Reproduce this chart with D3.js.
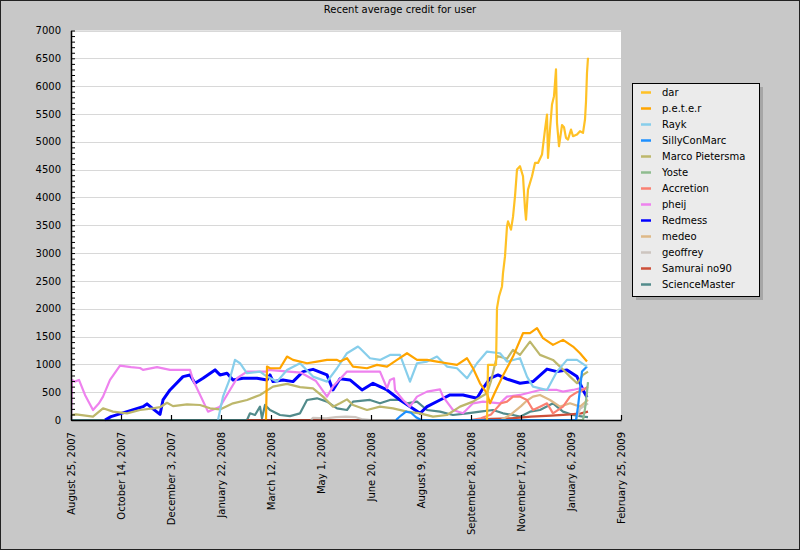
<!DOCTYPE html>
<html>
<head>
<meta charset="utf-8">
<script src="https://cdn.jsdelivr.net/npm/d3@7"></script>
<style>
  html, body { margin: 0; padding: 0; background: #c8c8c8; }
  svg { display: block; }
  text { font-family: "DejaVu Sans", sans-serif; }
</style>
</head>
<body>
<svg id="chart" width="800" height="550"></svg>
<script>
// ---------------- DATA ----------------
const chartTitle = "Recent average credit for user";
const baseDate = "2007-08-25";          // day 0 of all series
const xTickDates = ["2007-08-25","2007-10-14","2007-12-03","2008-01-22","2008-03-12","2008-05-01",
                    "2008-06-20","2008-08-09","2008-09-28","2008-11-17","2009-01-06","2009-02-25"];
const yTickValues = [0,500,1000,1500,2000,2500,3000,3500,4000,4500,5000,5500,6000,6500,7000];
const seriesNames = ["dar","p.e.t.e.r","Rayk","SillyConMarc","Marco Pietersma","Yoste","Accretion",
                     "pheij","Redmess","medeo","geoffrey","Samurai no90","ScienceMaster"];

// each series: [day offset from baseDate, recent average credit]
const dar = [[416,0],[417,990],[425,990],[426,2010],[428,2220],[431,2400],[432,2640],[434,2940],[436,3480],
  [437,3570],[440,3420],[442,3650],[444,4020],[446,4500],[449,4560],[452,4380],[454,3800],[455,3600],[457,4140],
  [461,4380],[464,4620],[467,4620],[471,4770],[472,4920],[474,5220],[476,5490],[477,4710],[479,5220],[481,5670],
  [483,5820],[485,6300],[486,5340],[488,4920],[491,5300],[493,5260],[495,5070],[497,5040],[500,5220],[502,5100],
  [506,5130],[509,5190],[512,5160],[514,5400],[515,5720],[516,6240],[517,6510]];
const peter = [[195,0],[196,960],[199,930],[209,930],[216,1140],[222,1080],[236,1020],[246,1050],[256,1080],
  [266,1080],[269,1050],[276,1110],[282,960],[296,930],[306,990],[316,960],[326,1080],[336,1200],[346,1080],
  [356,1080],[366,1050],[376,1020],[386,990],[396,1110],[402,930],[409,660],[416,480],[419,300],[424,500],
  [432,800],[442,1140],[452,1560],[459,1560],[466,1650],[472,1470],[482,1350],[492,1440],[502,1320],[509,1200],[516,1050]];
const rayk = [[147,0],[152,420],[159,750],[164,1080],[169,1020],[176,840],[189,870],[196,780],[206,690],[216,900],
  [229,1020],[242,780],[256,690],[266,930],[276,1200],[287,1320],[289,1290],[299,1110],[309,1080],[319,1170],
  [329,1170],[339,690],[346,1020],[356,1050],[366,1140],[376,960],[386,930],[396,750],[406,1020],[416,1230],
  [429,1200],[436,1050],[449,1110],[456,780],[462,600],[476,540],[486,870],[496,1080],[506,1080],[516,960]];
const sillyConMarc = [[325,0],[330,80],[335,150],[340,130],[345,50],[350,0],[505,0],[507,240],[511,870],[516,960]];
const marco = [[0,90],[5,100],[22,60],[32,210],[42,150],[56,120],[69,180],[82,210],[89,230],[96,310],[102,250],
  [116,280],[129,270],[139,210],[149,190],[162,300],[176,360],[189,450],[202,600],[216,650],[229,590],[242,570],
  [252,420],[262,240],[269,300],[276,370],[282,270],[296,180],[309,240],[322,210],[336,150],[349,120],[362,60],
  [376,90],[389,240],[402,330],[416,480],[420,700],[426,1150],[436,1100],[442,1260],[449,1170],[459,1410],
  [469,1170],[482,1080],[489,960],[499,780],[506,660],[512,810],[517,870]];
const yoste = [[505,0],[512,0],[514,200],[516,500],[517,680]];
const accretion = [[400,0],[410,30],[420,100],[425,200],[430,300],[436,330],[442,420],[449,420],[456,360],
  [462,180],[469,240],[476,300],[482,120],[492,240],[499,420],[506,500],[512,540],[517,600]];
const pheij = [[0,0],[1,720],[4,690],[8,720],[14,450],[22,180],[28,300],[32,420],[39,720],[49,977],[60,950],
  [69,935],[72,900],[86,950],[99,900],[119,900],[122,720],[137,150],[149,240],[166,750],[176,870],[196,870],
  [197,900],[230,850],[245,700],[256,420],[262,600],[276,870],[289,870],[309,870],[316,570],[319,720],[323,750],
  [324,540],[332,360],[339,240],[346,420],[356,510],[369,550],[372,420],[382,180],[392,120],[402,300],[412,330],
  [429,300],[436,420],[449,450],[469,540],[486,540],[492,510],[502,540],[509,570],[516,550]];
const redmess = [[34,0],[40,60],[56,150],[72,240],[76,290],[82,200],[89,100],[92,360],[99,540],[112,780],
  [119,810],[124,660],[132,750],[144,900],[149,810],[156,840],[162,720],[172,750],[186,750],[196,720],[199,810],
  [202,690],[212,720],[222,690],[232,870],[242,910],[256,810],[262,540],[269,740],[279,720],[291,540],[302,660],
  [316,540],[329,360],[349,120],[356,240],[369,360],[379,450],[392,450],[406,390],[412,570],[419,750],[427,810],
  [436,735],[449,660],[462,690],[476,915],[486,870],[496,900],[506,780],[512,540],[516,410]];
const medeo = [[430,0],[440,100],[450,250],[456,350],[462,420],[469,450],[479,360],[489,240],[499,300],[509,240],[517,360]];
const geoffrey = [[240,0],[242,40],[255,30],[265,50],[275,60],[285,50],[292,10],[300,0],[505,0],[509,200],[513,250],[517,300]];
const samurai = [[176,0],[404,0],[420,20],[440,30],[460,60],[480,80],[500,100],[510,120],[517,150]];
const scienceMaster = [[0,0],[176,0],[179,120],[184,90],[189,240],[191,30],[194,270],[199,180],[209,90],[219,70],
  [229,120],[236,360],[246,390],[256,330],[266,210],[276,180],[282,330],[299,360],[309,300],[319,360],[329,360],
  [336,300],[346,330],[356,180],[369,150],[382,90],[396,120],[409,150],[422,180],[432,120],[442,90],[449,60],
  [459,150],[469,180],[482,300],[492,150],[502,90],[512,60],[517,50]];

const seriesData = [dar, peter, rayk, sillyConMarc, marco, yoste, accretion, pheij, redmess, medeo, geoffrey, samurai, scienceMaster];

// ---------------- STYLE ----------------
const seriesColors = ["#ffc125","#ffa500","#87ceeb","#1e90ff","#bdb76b","#8fbc8f","#fa8072",
                      "#ee82ee","#0000ff","#deb887","#cdc5bf","#cd4f39","#528b8b"];
const W = 800, H = 550;
const plot = {left: 71, top: 30.5, right: 621, bottom: 420};

const svg = d3.select("#chart");
svg.append("rect").attr("x",0.5).attr("y",0.5).attr("width",W-1).attr("height",H-1)
  .attr("fill","#c8c8c8").attr("stroke","#222").attr("stroke-width",1);

const parse = d3.utcParse("%Y-%m-%d");
const base = parse(baseDate);
const tickDates = xTickDates.map(parse);

const x = d3.scaleUtc().domain([tickDates[0], tickDates[tickDates.length-1]]).range([plot.left, plot.right]);
const y = d3.scaleLinear().domain([0, 7000]).range([plot.bottom, plot.top]);

// title
svg.append("text").attr("x", 400).attr("y", 13).attr("text-anchor","middle")
  .style("font-size","10px").attr("fill","#000").text(chartTitle);

// plot background
svg.append("rect").attr("x",plot.left).attr("y",plot.top).attr("width",plot.right-plot.left)
  .attr("height",plot.bottom-plot.top).attr("fill","#fff");

// gridlines
svg.append("g").selectAll("line").data(yTickValues.filter(v => v > 0)).join("line")
  .attr("x1", plot.left).attr("x2", plot.right)
  .attr("y1", d => Math.round(y(d)) + 0.5).attr("y2", d => Math.round(y(d)) + 0.5)
  .attr("stroke","#d8d8d8").attr("stroke-width",1);

// clip
svg.append("clipPath").attr("id","clip").append("rect")
  .attr("x",plot.left).attr("y",plot.top).attr("width",plot.right-plot.left).attr("height",plot.bottom-plot.top+2);

const line = d3.line()
  .x(d => x(d3.utcDay.offset(base, d[0])))
  .y(d => y(d[1]));

const gLines = svg.append("g").attr("clip-path","url(#clip)");
// render in reverse order (first series on top)
for (let i = seriesData.length - 1; i >= 0; i--) {
  gLines.append("path").datum(seriesData[i])
    .attr("d", line).attr("fill","none")
    .attr("stroke", seriesColors[i])
    .attr("stroke-width", seriesNames[i] === "Redmess" ? 3 : 2.2)
    .attr("stroke-linejoin","round");
}

// y axis
const yAxis = d3.axisLeft(y).tickValues(d3.range(0, 7001, 100))
  .tickSizeInner(-4).tickSizeOuter(0).tickPadding(10)
  .tickFormat(d => yTickValues.includes(d) ? String(d) : "");
const gy = svg.append("g").attr("transform", `translate(${plot.left},0)`).call(yAxis);
gy.select(".domain").attr("stroke","#000").attr("stroke-width",1.5);
gy.selectAll(".tick line").attr("stroke","#000");
gy.selectAll("text").style("font-size","10px").style("font-family","DejaVu Sans").attr("fill","#000");

// x axis
const xAxis = d3.axisBottom(x).tickValues(tickDates).tickSizeInner(-5).tickSizeOuter(0)
  .tickFormat(d3.utcFormat("%B %-d, %Y"));
const gx = svg.append("g").attr("transform", `translate(0,${plot.bottom})`).call(xAxis);
gx.select(".domain").attr("stroke","#000").attr("stroke-width",1.5);
gx.selectAll(".tick line").attr("stroke","#000").attr("stroke-width",1.2);
gx.selectAll("text").style("font-size","10px").style("font-family","DejaVu Sans").attr("fill","#000")
  .attr("transform","rotate(-90)").attr("x",-12).attr("y",0).attr("dy","0.35em")
  .style("text-anchor","end");

// legend
const lg = svg.append("g");
const lx = 632, ly = 83, lw = 127, lh = 213;
lg.append("rect").attr("x",lx+4).attr("y",ly+4).attr("width",lw).attr("height",lh).attr("fill","#a6a6a6");
lg.append("rect").attr("x",lx+0.5).attr("y",ly+0.5).attr("width",lw).attr("height",lh)
  .attr("fill","#ebebeb").attr("stroke","#000").attr("stroke-width",1);
seriesNames.forEach((name, i) => {
  const cy = ly + 9 + i * 16;
  lg.append("line").attr("x1", lx + 9).attr("x2", lx + 19).attr("y1", cy + 0.5).attr("y2", cy + 0.5)
    .attr("stroke", seriesColors[i]).attr("stroke-width", 2.5);
  lg.append("text").attr("x", lx + 30).attr("y", cy).attr("dy","0.35em")
    .style("font-size","10px").attr("fill","#000").text(name);
});
</script>
</body>
</html>
